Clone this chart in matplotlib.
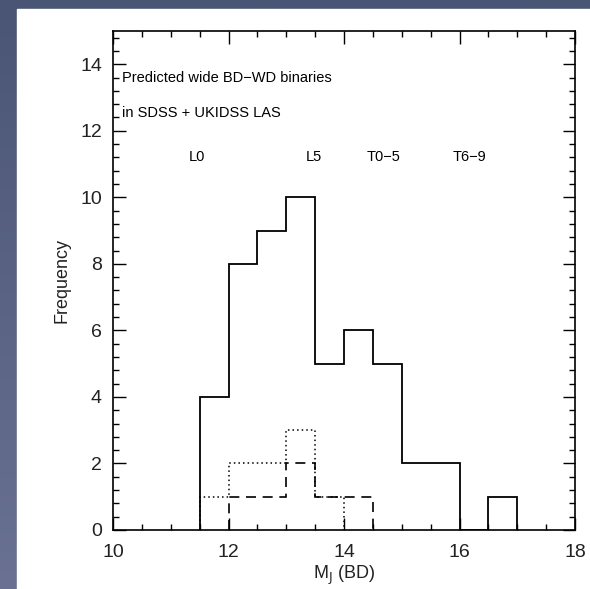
import numpy as np
import matplotlib
matplotlib.use('Agg')
import matplotlib.pyplot as plt
from matplotlib.ticker import MultipleLocator
from matplotlib.colors import LinearSegmentedColormap

plt.rcParams['font.family'] = ['Liberation Sans', 'DejaVu Sans']

# histogram bins in M_J (0.5 mag wide)
edges_all = np.arange(11.5, 17.01, 0.5)
counts_all = [4, 8, 9, 10, 5, 6, 5, 2, 2, 0, 1]

edges_dot = np.arange(11.5, 14.01, 0.5)
counts_dot = [1, 2, 2, 3, 1]

edges_dash = np.arange(12.0, 14.51, 0.5)
counts_dash = [1, 1, 2, 1, 1]

spt_labels = ['L0', 'L5', 'T0\u22125', 'T6\u22129']
spt_x = [11.45, 13.48, 14.68, 16.18]
spt_y = 11.2

fig = plt.figure(figsize=(5.9, 5.89), dpi=100)

# slide-style backdrop
bg = fig.add_axes([0, 0, 1, 1])
grad = np.linspace(0, 1, 256).reshape(-1, 1)
cmap = LinearSegmentedColormap.from_list('bg', ['#4a5575', '#6a7192'])
bg.imshow(grad, aspect='auto', cmap=cmap, extent=[0, 1, 0, 1], origin='upper')
bg.add_patch(plt.Rectangle((17 / 590, 0), 1, 1 - 9 / 589, color='white'))
bg.set_xlim(0, 1)
bg.set_ylim(0, 1)
bg.axis('off')

ax = fig.add_axes([113 / 590, 59 / 589, 462 / 590, 499 / 589])
ax.stairs(counts_all, edges_all, color='black', lw=1.3)
ax.stairs(counts_dot, edges_dot, color='black', lw=1.1, linestyle=(0, (1, 2)))
ax.stairs(counts_dash, edges_dash, color='black', lw=1.2, linestyle=(0, (6, 4)))

ax.set_xlim(10, 18)
ax.set_ylim(0, 15)
ax.xaxis.set_major_locator(MultipleLocator(2))
ax.xaxis.set_minor_locator(MultipleLocator(0.5))
ax.yaxis.set_major_locator(MultipleLocator(2))
ax.yaxis.set_minor_locator(MultipleLocator(0.4))
ax.tick_params(which='both', direction='in', top=True, right=True,
               labelsize=14, width=1, labelcolor='#222222')
ax.tick_params(which='major', length=9)
ax.tick_params(axis='x', which='major', pad=10)
ax.tick_params(axis='y', which='major', pad=8)
ax.tick_params(which='minor', length=4.5)
for s in ax.spines.values():
    s.set_linewidth(1.2)

ax.set_xlabel(r'M$_{\rm J}$ (BD)', fontsize=13, labelpad=2, color='#222222')
ax.set_ylabel('Frequency', fontsize=13, labelpad=7, color='#222222')

ax.text(10.15, 13.6, 'Predicted wide BD\u2212WD binaries', fontsize=10.5, va='center')
ax.text(10.15, 12.55, 'in SDSS + UKIDSS LAS', fontsize=10.5, va='center')
for lab, x in zip(spt_labels, spt_x):
    ax.text(x, spt_y, lab, fontsize=10.5, ha='center', va='center')

fig.savefig('out.png', dpi=100)
